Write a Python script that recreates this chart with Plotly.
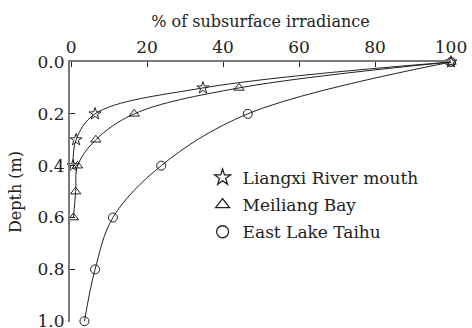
import plotly.graph_objects as go

# Underwater light profiles: percentage of subsurface irradiance vs depth
liangxi_pct = [100, 34.7, 6.3, 1.3, 0.5]
liangxi_depth = [0.0, 0.1, 0.2, 0.3, 0.4]

meiliang_pct = [100, 44.2, 16.6, 6.5, 1.7, 1.2, 0.6]
meiliang_depth = [0.0, 0.1, 0.2, 0.3, 0.4, 0.5, 0.6]

eastlake_pct = [100, 46.5, 23.7, 11.0, 6.3, 3.5]
eastlake_depth = [0.0, 0.2, 0.4, 0.6, 0.8, 1.0]

series_names = ["Liangxi River mouth", "Meiliang Bay", "East Lake Taihu"]
symbols = ["star-open", "triangle-up-open", "circle-open"]

x_ticks = [0, 20, 40, 60, 80, 100]
y_ticks = [0.0, 0.2, 0.4, 0.6, 0.8, 1.0]

FONT = "DejaVu Serif"
INK = "#222222"
AXIS = "#7a7a7a"

fig = go.Figure()

data = [
    (liangxi_pct, liangxi_depth),
    (meiliang_pct, meiliang_depth),
    (eastlake_pct, eastlake_depth),
]

for i, ((xs, ys), name, sym) in enumerate(zip(data, series_names, symbols)):
    # smooth connecting curve
    fig.add_trace(go.Scatter(
        x=xs, y=ys, mode="lines", line=dict(color=INK, width=1, shape="spline", smoothing=1.0),
        showlegend=False, hoverinfo="skip", cliponaxis=False,
    ))
    # measured points
    fig.add_trace(go.Scatter(
        x=xs, y=ys, mode="markers", showlegend=False, cliponaxis=False,
        marker=dict(symbol=sym, size=9, color=INK, line=dict(color=INK, width=1)),
    ))
    # legend entry with a larger symbol
    fig.add_trace(go.Scatter(
        x=[None], y=[None], mode="markers", name=name, legendgroup=f"g{i}",
        marker=dict(symbol=sym, size=12, color=INK, line=dict(color=INK, width=1.3)),
    ))

fig.update_layout(
    width=472, height=328,
    margin=dict(l=70, r=21, t=62, b=6),
    paper_bgcolor="white", plot_bgcolor="white",
    font=dict(family=FONT, size=17, color=INK),
    showlegend=True,
    legend=dict(
        x=0.348, y=0.623, xanchor="left", yanchor="top",
        bgcolor="rgba(0,0,0,0)", font=dict(family=FONT, size=17, color=INK),
        tracegroupgap=2, itemwidth=30,
    ),
    xaxis=dict(
        side="top", range=[-0.3, 100], tickvals=x_ticks, ticktext=[str(v) for v in x_ticks],
        showgrid=False, zeroline=False, showline=True, linecolor=AXIS, linewidth=2,
        ticks="inside", ticklen=5, tickcolor=INK, tickwidth=1, automargin=False,
        title=dict(text="% of subsurface irradiance", font=dict(family=FONT, size=16), standoff=6),
        tickfont=dict(family=FONT, size=17),
    ),
    yaxis=dict(
        range=[1.003, 0.0], tickvals=y_ticks, ticktext=[f"{v:.1f}" for v in y_ticks],
        showgrid=False, zeroline=False, showline=True, linecolor=AXIS, linewidth=2,
        ticks="inside", ticklen=5, tickcolor=INK, tickwidth=1, ticklabeloverflow="allow",
        automargin=False,
        title=dict(text="Depth (m)", font=dict(family=FONT, size=16), standoff=12),
        tickfont=dict(family=FONT, size=17),
    ),
)

fig.write_html("out.html")
